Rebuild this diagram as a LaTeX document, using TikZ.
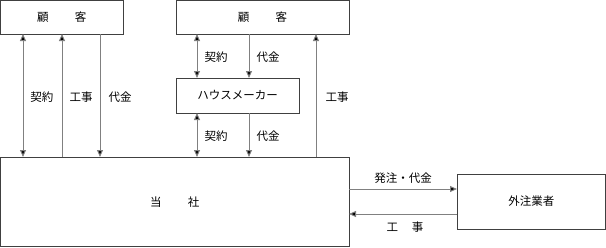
\documentclass[tikz,border=0pt]{standalone}
\usepackage{fontspec}
\setmainfont{Noto Sans CJK JP}
\usetikzlibrary{arrows.meta}
\begin{document}
\begin{tikzpicture}[x=1pt,y=-1pt,
  box/.style={draw=black!75,line width=0.8pt,inner sep=0pt},
  conn/.style={draw=black!50,line width=1pt},
  tip/.style={-{Triangle[length=7pt,width=6pt,fill=black]}},
  tips/.style={{Triangle[length=7pt,width=6pt,fill=black]}-{Triangle[length=7pt,width=6pt,fill=black]}},
  lbl/.style={font=\fontsize{11.5}{13}\selectfont,inner sep=0pt}]
\useasboundingbox (0,0) rectangle (606,247);
% boxes
\draw[box] (0.5,0.5) rectangle (123,34) node[lbl,midway] (cust1) {顧\hspace{2.3em}客};
\draw[box] (176,0.5) rectangle (349,34) node[lbl,midway] (cust2) {顧\hspace{2.3em}客};
\draw[box] (176,78) rectangle (299,113) node[lbl,midway] (maker) {ハウスメーカー};
\draw[box] (0.5,157) rectangle (349,246.5) node[lbl,midway] (us) {当\hspace{2.3em}社};
\draw[box] (457,174) rectangle (605.5,229) node[lbl,midway] (sub) {外注業者};
% named coordinates
\foreach \n/\x in {a/23,b/62,c/100} {
  \coordinate (\n1) at (\x,34); \coordinate (\n2) at (\x,157);}
\foreach \n/\x in {d/197,e/249} {
  \coordinate (\n1) at (\x,34); \coordinate (\n2) at (\x,78);
  \coordinate (\n3) at (\x,113); \coordinate (\n4) at (\x,157);}
\coordinate (f1) at (316,34); \coordinate (f2) at (316,157);
\coordinate (g1) at (349,189); \coordinate (g2) at (457,189);
\coordinate (h1) at (349,214); \coordinate (h2) at (457,214);
% connectors
\draw[conn,tips] (a1) -- (a2);
\draw[conn,tip] (b2) -- (b1);
\draw[conn,tip] (c1) -- (c2);
\draw[conn,tips] (d1) -- (d2);
\draw[conn,tip] (e1) -- (e2);
\draw[conn,tips] (d3) -- (d4);
\draw[conn,tip] (e3) -- (e4);
\draw[conn,tip] (f2) -- (f1);
\draw[conn,tip] (g1) -- (g2);
\draw[conn,tip] (h2) -- (h1);
% labels
\node[lbl] at (42,97) {契約};
\node[lbl] at (81,97) {工事};
\node[lbl] at (120,97) {代金};
\node[lbl] at (216,57) {契約};
\node[lbl] at (268,57) {代金};
\node[lbl] at (216,136) {契約};
\node[lbl] at (268,136) {代金};
\node[lbl] at (337,97) {工事};
\node[lbl] at (403,178) {発注・代金};
\node[lbl] at (405,227) {工\hspace{1.2em}事};
\end{tikzpicture}
\end{document}
